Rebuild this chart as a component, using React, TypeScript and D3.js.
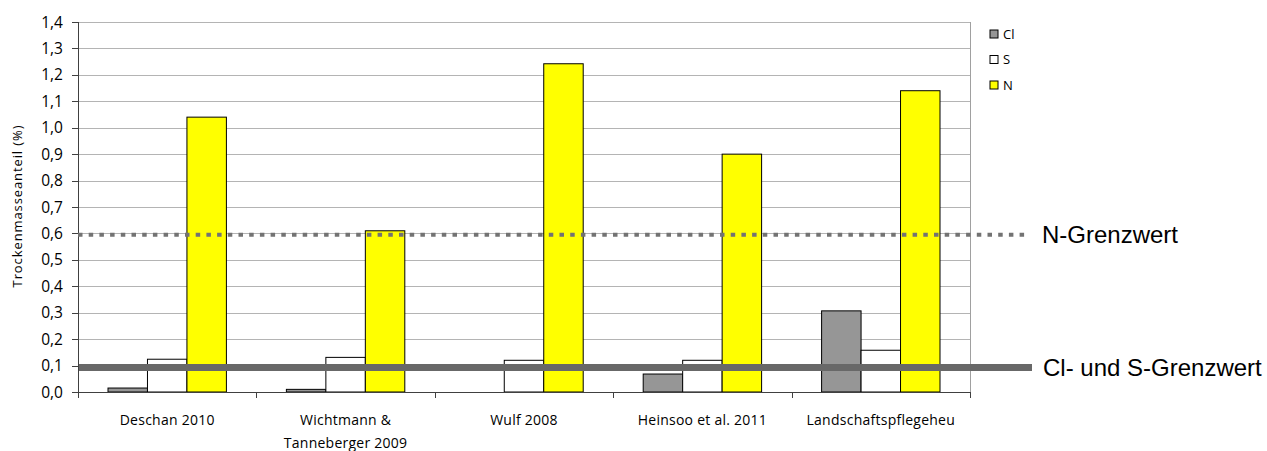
import React from "react";
import * as d3 from "d3";

const categories: string[][] = [
  ["Deschan 2010"],
  ["Wichtmann &", "Tanneberger 2009"],
  ["Wulf 2008"],
  ["Heinsoo et al. 2011"],
  ["Landschaftspflegeheu"],
];
const seriesNames = ["Cl", "S", "N"];
const clValues = [0.015, 0.01, 0, 0.068, 0.307];
const sValues = [0.124, 0.131, 0.12, 0.12, 0.158];
const nValues = [1.04, 0.61, 1.242, 0.9, 1.14];
const seriesColors = ["#969696", "#ffffff", "#ffff00"];
const yTicks = [0, 0.1, 0.2, 0.3, 0.4, 0.5, 0.6, 0.7, 0.8, 0.9, 1.0, 1.1, 1.2, 1.3, 1.4];
const nLimit = 0.595;
const clsLimit = 0.093;
const nLimitLabel = "N-Grenzwert";
const clsLimitLabel = "Cl- und S-Grenzwert";
const yLabel = "Trockenmasseanteil (%)";

export default function App() {
  const W = 1267, H = 451;
  const left = 78, right = 970, top = 22, bottom = 392;
  const values = [clValues, sValues, nValues];
  const x0 = d3.scaleBand<number>().domain(d3.range(categories.length)).range([left, right]).paddingInner(0).paddingOuter(0);
  const bw = x0.bandwidth();
  const x1 = d3.scaleBand<number>().domain([0, 1, 2]).range([0, bw]).paddingOuter(0.76).paddingInner(0);
  const y = d3.scaleLinear().domain([0, 1.4]).range([bottom, top]);
  const fmt = (v: number) => v.toFixed(1).replace(".", ",");
  const font = "'Open Sans', Lato, sans-serif";

  return (
    <svg width={W} height={H} style={{ position: "absolute", left: 0, top: 0, background: "#fff" }}>
      {yTicks.map((t) => (
        <line key={"g" + t} x1={left} x2={right} y1={Math.round(y(t)) + 0.5} y2={Math.round(y(t)) + 0.5} stroke="#b4b4b4" strokeWidth={1} />
      ))}
      <line x1={right + 0.5} x2={right + 0.5} y1={top} y2={bottom} stroke="#a0a0a0" />
      {categories.map((_, ci) =>
        values.map((vals, si) => {
          const v = vals[ci];
          if (v <= 0) return null;
          const bx = (x0(ci) as number) + (x1(si) as number);
          return (
            <rect key={ci + "-" + si} x={bx} y={y(v)} width={x1.bandwidth()} height={bottom - y(v)} fill={seriesColors[si]} stroke="#000" strokeWidth={1} />
          );
        })
      )}
      <line x1={left + 0.5} x2={left + 0.5} y1={top} y2={bottom + 6} stroke="#404040" />
      {yTicks.map((t) => (
        <g key={"t" + t}>
          <line x1={left - 6} x2={left} y1={Math.round(y(t)) + 0.5} y2={Math.round(y(t)) + 0.5} stroke="#404040" />
          <text x={left - 15} y={y(t)} dy="0.36em" textAnchor="end" fontFamily={font} fontSize={15.5} fill="#000">{fmt(t)}</text>
        </g>
      ))}
      <line x1={left} x2={right} y1={bottom + 0.5} y2={bottom + 0.5} stroke="#404040" />
      {d3.range(categories.length + 1).map((i) => {
        const xx = Math.round(left + i * bw) + 0.5;
        return <line key={"ct" + i} x1={xx} x2={xx} y1={bottom} y2={bottom + 6} stroke="#404040" />;
      })}
      {categories.map((lines, ci) => (
        <text key={"cl" + ci} x={(x0(ci) as number) + bw / 2} y={425} textAnchor="middle" fontFamily={font} fontSize={14} letterSpacing={0.25} fill="#000">
          {lines.map((l, li) => (
            <tspan key={li} x={(x0(ci) as number) + bw / 2} dy={li === 0 ? 0 : 23}>{l}</tspan>
          ))}
        </text>
      ))}
      <text transform={`translate(22,206) rotate(-90)`} textAnchor="middle" fontFamily={font} fontSize={13} letterSpacing={0.9} fill="#000">{yLabel}</text>
      {seriesNames.map((n, i) => (
        <g key={"lg" + n} transform={`translate(990,${34 + i * 25.5})`}>
          <rect x={0} y={-4} width={8} height={8} fill={seriesColors[i]} stroke="#000" strokeWidth={1} />
          <text x={13} y={0} dy="0.35em" fontFamily={font} fontSize={13} fill="#000">{n}</text>
        </g>
      ))}
      <line x1={left} x2={1026} y1={y(nLimit)} y2={y(nLimit)} stroke="#737373" strokeWidth={4} strokeDasharray="4.5,6.2" />
      <line x1={left + 1} x2={1032} y1={y(clsLimit)} y2={y(clsLimit)} stroke="#686868" strokeWidth={7} />
      <text x={1042} y={y(nLimit)} dy="0.35em" fontFamily="'Liberation Sans', Arial, sans-serif" fontSize={24} fill="#000">{nLimitLabel}</text>
      <text x={1043} y={y(clsLimit)} dy="0.35em" fontFamily="'Liberation Sans', Arial, sans-serif" fontSize={24} fill="#000">{clsLimitLabel}</text>
    </svg>
  );
}
